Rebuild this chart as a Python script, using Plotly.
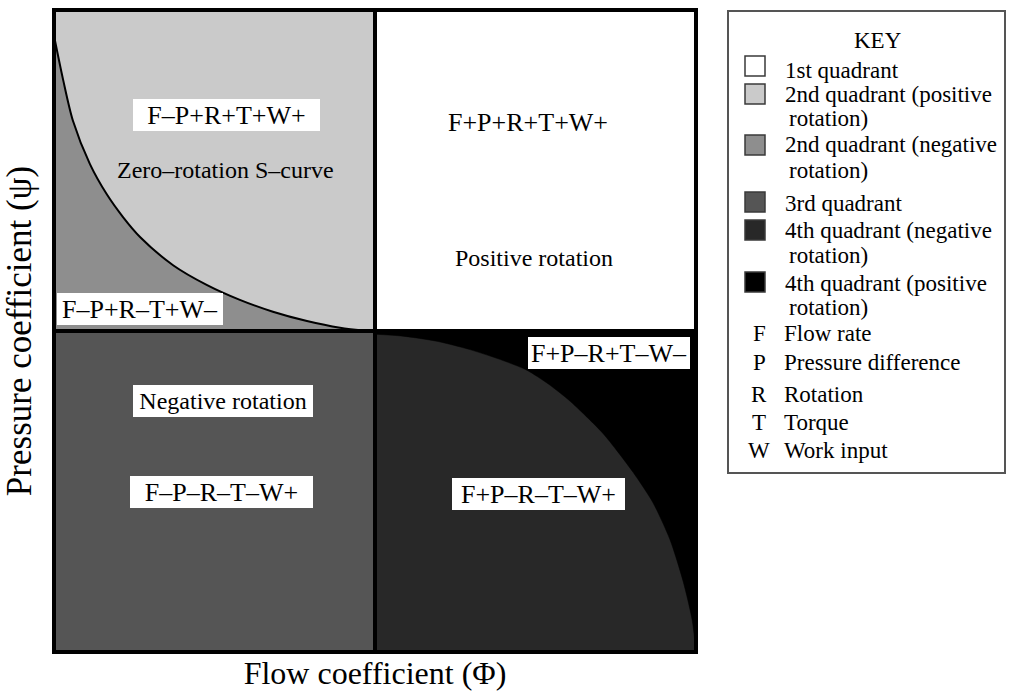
import plotly.graph_objects as go

# Four-quadrant turbine/pump map: flow coefficient (Phi) against pressure coefficient (psi)

# Zero-rotation S-curve in the 2nd quadrant
s_curve_phi = [-1.0, -0.971, -0.941, -0.888, -0.835, -0.785, -0.732, -0.629,
               -0.523, -0.421, -0.318, -0.212, -0.109, -0.025]
s_curve_psi = [0.92, 0.78, 0.655, 0.52, 0.425, 0.355, 0.293, 0.205,
               0.143, 0.097, 0.060, 0.031, 0.010, 0.0]

# Boundary between negative and positive rotation in the 4th quadrant
r_curve_phi = [0.0, 0.087, 0.193, 0.296, 0.399, 0.473, 0.540, 0.607, 0.711,
               0.804, 0.866, 0.919, 0.960, 0.988, 1.0]
r_curve_psi = [-0.01, -0.016, -0.032, -0.058, -0.092, -0.122, -0.165, -0.218,
               -0.32, -0.44, -0.535, -0.650, -0.780, -0.900, -1.0]

# Region labels: text, phi, psi, boxed
region_text = ["F–P+R+T+W+", "Zero–rotation S–curve", "F–P+R–T+W–",
               "F+P+R+T+W+", "Positive rotation",
               "Negative rotation", "F–P–R–T–W+",
               "F+P–R+T–W–", "F+P–R–T–W+"]
region_phi = [-0.464, -0.467, -0.732, 0.477, 0.495, -0.474, -0.477, 0.729, 0.508]
region_psi = [0.673, 0.502, 0.070, 0.648, 0.227, -0.218, -0.502, -0.069, -0.508]
region_boxed = [True, False, True, False, False, True, True, True, True]
region_box_w = [187, 0, 166, 0, 0, 180, 183, 162, 173]

# Key entries
key_title = "KEY"
key_swatch_labels = ["1st quadrant", "2nd quadrant (positive\nrotation)",
                     "2nd quadrant (negative\nrotation)", "3rd quadrant",
                     "4th quadrant (negative\nrotation)", "4th quadrant (positive\nrotation)"]
key_letters = ["F", "P", "R", "T", "W"]
key_letter_labels = ["Flow rate", "Pressure difference", "Rotation", "Torque", "Work input"]

# Colours
C_Q1 = "#ffffff"
C_Q2_POS = "#cacaca"
C_Q2_NEG = "#8e8e8e"
C_Q3 = "#555555"
C_Q4_NEG = "#282828"
C_Q4_POS = "#000000"
key_colors = [C_Q1, C_Q2_POS, C_Q2_NEG, C_Q3, C_Q4_NEG, C_Q4_POS]

FONT = "'Liberation Serif', 'Times New Roman', Times, 'DejaVu Serif', serif"
W, H = 1009, 696
ML, MR, MT, MB = 54, 313, 10, 44
PW, PH = W - ML - MR, H - MT - MB


def paper_x(px):
    return (px - ML) / PW


def paper_y(py):
    return (H - MB - py) / PH


fig = go.Figure()

# 2nd quadrant: area under the S-curve (negative rotation)
fig.add_trace(go.Scatter(
    x=s_curve_phi, y=s_curve_psi, mode="lines",
    line=dict(color="black", width=2, shape="spline", smoothing=0.8),
    fill="tozeroy", fillcolor=C_Q2_NEG, hoverinfo="skip", showlegend=False))

# 4th quadrant: region above the curve (positive rotation)
fig.add_trace(go.Scatter(
    x=r_curve_phi, y=r_curve_psi, mode="lines",
    line=dict(color=C_Q4_POS, width=0.5, shape="spline", smoothing=0.7),
    fill="tozeroy", fillcolor=C_Q4_POS, hoverinfo="skip", showlegend=False))

shapes = []
# Quadrant backgrounds
for (x0, x1, y0, y1, c) in [(0, 1, 0, 1, C_Q1), (-1, 0, 0, 1, C_Q2_POS),
                            (-1, 0, -1, 0, C_Q3), (0, 1, -1, 0, C_Q4_NEG)]:
    shapes.append(dict(type="rect", xref="x", yref="y", x0=x0, x1=x1, y0=y0, y1=y1,
                       fillcolor=c, line=dict(width=0), layer="below"))
# Frame and quadrant dividers
shapes.append(dict(type="rect", xref="paper", yref="paper", x0=0, x1=1, y0=0, y1=1,
                   line=dict(color="black", width=4), layer="above"))
shapes.append(dict(type="line", xref="x", yref="paper", x0=0, x1=0, y0=0, y1=1,
                   line=dict(color="black", width=4), layer="above"))
shapes.append(dict(type="line", xref="paper", yref="y", x0=0, x1=1, y0=0, y1=0,
                   line=dict(color="black", width=4), layer="above"))

annotations = []
for t, x, y, boxed, bw in zip(region_text, region_phi, region_psi, region_boxed, region_box_w):
    is_formula = t.startswith("F")
    ann = dict(text=t, x=x, y=y, xref="x", yref="y", showarrow=False,
               font=dict(family=FONT, size=26 if is_formula else 24, color="black"),
               xanchor="center", yanchor="middle")
    if boxed:
        ann.update(bgcolor="white", width=bw, height=32, borderpad=0, borderwidth=0)
    annotations.append(ann)

# Key box
KX0, KX1, KY0, KY1 = 728, 1005, 11, 473
shapes.append(dict(type="rect", xref="paper", yref="paper",
                   x0=paper_x(KX0), x1=paper_x(KX1), y0=paper_y(KY1), y1=paper_y(KY0),
                   fillcolor="white", line=dict(color="#555555", width=2), layer="above"))
annotations.append(dict(text=key_title, x=paper_x(878), y=paper_y(40), xref="paper", yref="paper",
                        showarrow=False, xanchor="center", yanchor="middle",
                        font=dict(family=FONT, size=23, color="black")))

KEY_FS = 23
swatch_centers = [66, 94, 145, 202, 230, 282]
swatch_line_centers = [[70], [95, 119], [145, 170], [203], [230, 255], [283, 307]]
for label, color, sc, lines_y in zip(key_swatch_labels, key_colors, swatch_centers, swatch_line_centers):
    shapes.append(dict(type="rect", xref="paper", yref="paper",
                       x0=paper_x(745), x1=paper_x(765), y0=paper_y(sc + 10), y1=paper_y(sc - 10),
                       fillcolor=color, line=dict(color="#3a3a3a", width=1.5), layer="above"))
    for i, (line, ly) in enumerate(zip(label.split("\n"), lines_y)):
        annotations.append(dict(text=line, x=paper_x(783 if i == 0 else 787), y=paper_y(ly),
                                xref="paper", yref="paper", showarrow=False,
                                xanchor="left", yanchor="middle",
                                font=dict(family=FONT, size=KEY_FS, color="black")))

letter_rows = [333, 362, 394, 422, 450]
for letter, label, ly in zip(key_letters, key_letter_labels, letter_rows):
    annotations.append(dict(text=letter, x=paper_x(759), y=paper_y(ly), xref="paper", yref="paper",
                            showarrow=False, xanchor="center", yanchor="middle",
                            font=dict(family=FONT, size=KEY_FS, color="black")))
    annotations.append(dict(text=label, x=paper_x(782), y=paper_y(ly), xref="paper", yref="paper",
                            showarrow=False, xanchor="left", yanchor="middle",
                            font=dict(family=FONT, size=KEY_FS, color="black")))

fig.update_layout(
    width=W, height=H,
    margin=dict(l=ML, r=MR, t=MT, b=MB, pad=0),
    paper_bgcolor="white", plot_bgcolor="white",
    shapes=shapes, annotations=annotations,
    xaxis=dict(range=[-1, 1], showgrid=False, zeroline=False, showticklabels=False, ticks="",
               fixedrange=True,
               title=dict(text="Flow coefficient (Φ)", font=dict(family=FONT, size=32, color="black"),
                          standoff=9)),
    yaxis=dict(range=[-1, 1], showgrid=False, zeroline=False, showticklabels=False, ticks="",
               fixedrange=True,
               title=dict(text="Pressure coefficient (ψ)", font=dict(family=FONT, size=35, color="black"),
                          standoff=12)),
    showlegend=False,
)

fig.write_html("out.html")
